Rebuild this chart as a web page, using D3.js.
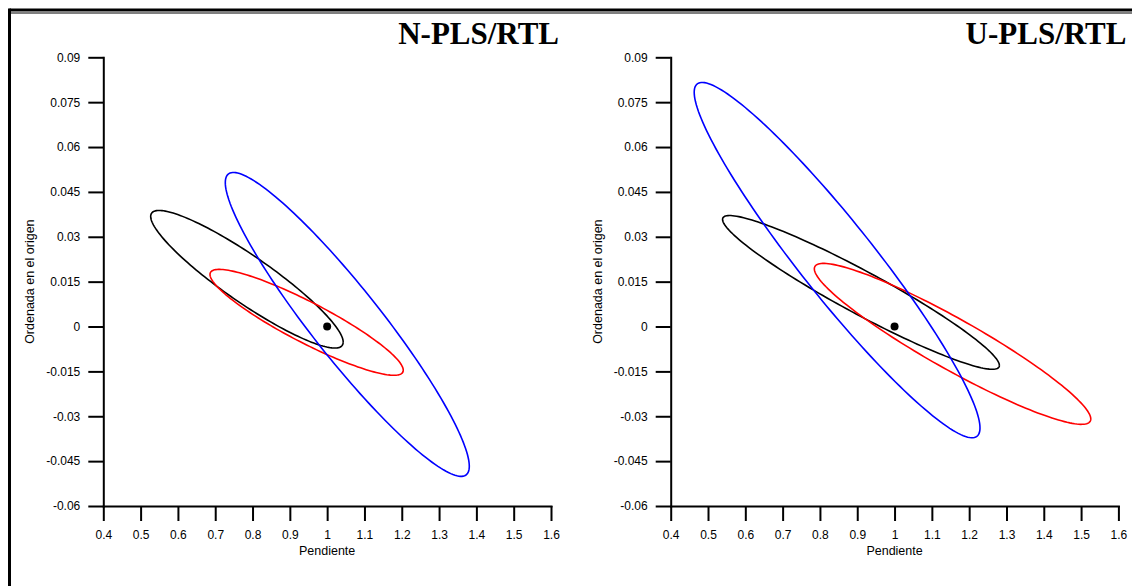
<!DOCTYPE html>
<html>
<head>
<meta charset="utf-8">
<script src="https://cdn.jsdelivr.net/npm/d3@7/dist/d3.min.js"></script>
<style>
  html, body { margin: 0; padding: 0; background: #fff; }
  svg { display: block; }
  .tick text { font-family: "Liberation Sans", Arial, sans-serif; font-size: 12px; fill: #000; }
</style>
</head>
<body>
<svg id="chart" width="1132" height="586"></svg>
<script>
// ---- Data ----
const panelTitles = ["N-PLS/RTL", "U-PLS/RTL"];
const xTicks = [0.4, 0.5, 0.6, 0.7, 0.8, 0.9, 1, 1.1, 1.2, 1.3, 1.4, 1.5, 1.6];
const yTicks = [-0.06, -0.045, -0.03, -0.015, 0, 0.015, 0.03, 0.045, 0.06, 0.075, 0.09];
const yTickLabels = ["-0.06", "-0.045", "-0.03", "-0.015", "0", "0.015", "0.03", "0.045", "0.06", "0.075", "0.09"];
const xTickLabels = ["0.4", "0.5", "0.6", "0.7", "0.8", "0.9", "1", "1.1", "1.2", "1.3", "1.4", "1.5", "1.6"];
const ellipseColors = ["black", "red", "blue"];

// Joint confidence ellipses per panel: order black, red, blue
// centre slope, centre intercept, half-width in slope, intercept offset at max slope, half-height in intercept
const nplsCenterX = [0.785, 0.945, 1.054];
const nplsCenterY = [0.0158, 0.0014, 0.0007];
const nplsHalfX   = [0.258, 0.259, 0.327];
const nplsYAtMaxX = [-0.0210, -0.0160, -0.0474];
const nplsHalfY   = [0.0230, 0.0177, 0.0508];

const uplsCenterX = [0.910, 1.1555, 0.846];
const uplsCenterY = [0.0114, -0.0058, 0.0222];
const uplsHalfX   = [0.371, 0.3705, 0.383];
const uplsYAtMaxX = [-0.0244, -0.0251, -0.0561];
const uplsHalfY   = [0.0257, 0.0269, 0.0594];

const idealPoint = [1.0, 0.0];

// ---- Drawing ----
const svg = d3.select("#chart");

// frame
svg.append("line").attr("x1", 9.5).attr("x2", 1132).attr("y1", 10).attr("y2", 10)
  .attr("stroke", "#000").attr("stroke-width", 3);
svg.append("line").attr("x1", 11).attr("x2", 1132).attr("y1", 13).attr("y2", 13)
  .attr("stroke", "#000").attr("stroke-width", 1);
svg.append("line").attr("x1", 9.5).attr("x2", 9.5).attr("y1", 8.5).attr("y2", 586)
  .attr("stroke", "#000").attr("stroke-width", 3);

const plotLeft = [103.3, 670.7];
const plotWidth = 447.7;
const plotTop = 57.3, plotBottom = 506;

const panels = [
  {cx: nplsCenterX, cy: nplsCenterY, hx: nplsHalfX, yr: nplsYAtMaxX, hy: nplsHalfY},
  {cx: uplsCenterX, cy: uplsCenterY, hx: uplsHalfX, yr: uplsYAtMaxX, hy: uplsHalfY}
];

panels.forEach((p, pi) => {
  const x = d3.scaleLinear().domain([0.4, 1.6]).range([plotLeft[pi], plotLeft[pi] + plotWidth]);
  const y = d3.scaleLinear().domain([-0.06, 0.09]).range([plotBottom, plotTop]);
  const g = svg.append("g");

  const xAxis = d3.axisBottom(x).tickValues(xTicks).tickSize(15).tickPadding(9).tickSizeOuter(0)
    .tickFormat((d, i) => xTickLabels[i]);
  const yAxis = d3.axisLeft(y).tickValues(yTicks).tickSize(15).tickPadding(8).tickSizeOuter(0)
    .tickFormat((d, i) => yTickLabels[i]);

  const gx = g.append("g").attr("transform", `translate(0,${plotBottom})`).call(xAxis);
  const gy = g.append("g").attr("transform", `translate(${plotLeft[pi]},0)`).call(yAxis);
  [gx, gy].forEach(a => {
    a.selectAll("path, line").attr("stroke", "#000").attr("stroke-width", 2);
    a.select(".domain").attr("stroke-linecap", "square");
  });

  // axis titles
  g.append("text").attr("x", x(1.0)).attr("y", 554.5)
    .attr("text-anchor", "middle")
    .attr("font-family", "Liberation Sans, Arial, sans-serif").attr("font-size", 12.5)
    .text("Pendiente");
  g.append("text")
    .attr("transform", `translate(${plotLeft[pi] - 69},${(plotTop + plotBottom) / 2}) rotate(-90)`)
    .attr("text-anchor", "middle")
    .attr("font-family", "Liberation Sans, Arial, sans-serif").attr("font-size", 12.5)
    .text("Ordenada en el origen");

  // panel title
  g.append("text").attr("x", plotLeft[pi] + plotWidth + 8).attr("y", 44)
    .attr("text-anchor", "end")
    .attr("font-family", "Liberation Serif, 'Times New Roman', serif")
    .attr("font-weight", "bold").attr("font-size", 31)
    .text(panelTitles[pi]);

  // ellipses
  const line = d3.line().x(d => x(d[0])).y(d => y(d[1]));
  const ts = d3.range(0, 361, 2).map(a => a * Math.PI / 180);
  ellipseColors.forEach((col, k) => {
    const r = p.yr[k];
    const s = Math.sqrt(Math.max(0, p.hy[k] * p.hy[k] - r * r));
    const pts = ts.map(t => [p.cx[k] + p.hx[k] * Math.cos(t), p.cy[k] + r * Math.cos(t) + s * Math.sin(t)]);
    g.append("path").datum(pts).attr("d", line)
      .attr("fill", "none").attr("stroke", col).attr("stroke-width", 1.6);
  });

  g.append("circle").attr("cx", x(idealPoint[0])).attr("cy", y(idealPoint[1])).attr("r", 4)
    .attr("fill", "#000");
});
</script>
</body>
</html>
